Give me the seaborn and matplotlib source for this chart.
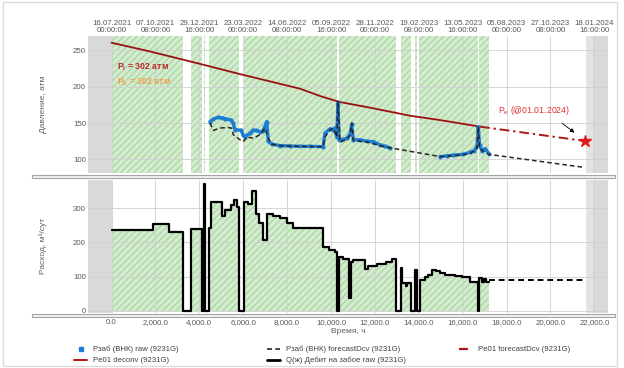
import numpy as np
import pandas as pd
import matplotlib
matplotlib.use("Agg")
import matplotlib.pyplot as plt
import seaborn as sns
from matplotlib.patches import Rectangle
from matplotlib.lines import Line2D

# ---------------- data (hours since 16.07.2021 00:00) ----------------
rate_t = [0, 1904, 2633, 3244, 3622, 4109, 4192, 4237, 4456, 4533, 5048, 5171, 5444, 5595, 5731,
          5822, 6059, 6205, 6415, 6583, 6734, 6916, 7098, 7372, 7677, 8009, 8283, 9650, 9909, 10183,
          10287, 10379, 10561, 10834, 10912, 11016, 11549, 11700, 12110, 12493, 12766, 12948, 13176,
          13212, 13404, 13463, 13645, 13827, 13918, 14055, 14283, 14433, 14616, 14771, 14967, 15195,
          15650, 15955, 16333, 16684, 16743, 16880, 16971, 17062, 17198]
rate_q = [236, 253, 229, 0, 239, 0, 370, 0, 242, 319, 277, 294, 309, 324, 304,
          0, 317, 312, 351, 282, 256, 207, 283, 278, 270, 258, 243, 187, 178, 173,
          0, 157, 151, 37, 144, 147, 122, 131, 137, 144, 150, 0, 124,
          81, 71, 81, 0, 120, 0, 90, 100, 105, 118, 115, 110, 105,
          102, 98, 85, 0, 95, 85, 92, 85, 85]
rate_fc_t = [17198, 21576]
rate_fc_q = [90, 90]

deconv_t = [0, 1754, 4032, 5854, 8588, 9499, 10365, 11777, 13600, 14967, 16790]
deconv_p = [260, 248, 231, 217, 197, 187, 179, 171, 160, 154, 145]

pe_fc_t = [16790, 21576]
pe_fc_p = [145, 125.3]

raw1_t = [4488, 4625, 4852, 5034, 5171, 5444, 5535, 5626, 5900, 5991, 6082, 6310, 6447, 6583,
          6765, 6902, 7071, 7144, 7299, 7677, 8132, 8588, 9043, 9636, 9727, 9955, 10092, 10183,
          10260, 10320, 10365, 10456, 10716, 10866, 10944, 11016, 11322, 11640, 11928, 12233,
          12461, 12689]
raw1_p = [152, 155, 158, 157, 156, 154, 150, 141, 140, 134, 131, 136, 140, 140,
          138, 139, 152, 125, 121, 119, 118.5, 118, 118, 117.5, 136, 142, 141, 143,
          131, 178, 127, 127, 129, 135, 148, 127, 127, 125, 124.5, 120,
          118, 116]
raw2_t = [14967, 15286, 15573, 16028, 16333, 16515, 16652, 16711, 16766, 16880, 17017, 17198]
raw2_p = [104, 105, 106, 107, 110, 112, 118, 145, 120, 112, 115, 108]

fc_t = [4488, 4638, 4943, 5249, 5476, 5549, 5854, 6005, 6160, 6460, 6765, 6994, 7144, 7299,
        7677, 8588, 9636, 9727, 9955, 10105, 10260, 10320, 10411, 10716, 10866, 10944, 11016,
        11640, 12233, 12689, 14967, 15573, 16333, 16652, 16711, 16766, 17017, 17198, 21576]
fc_p = [150, 140, 143, 144, 143, 134, 127, 124.5, 131, 129, 134, 143, 129, 121,
        119, 118, 117.5, 131, 140.5, 143, 131, 180, 124.5, 127, 133, 150, 126,
        124, 119, 116, 104, 105, 108, 115, 145, 115, 110, 107, 89]

star_t, star_p = 21576, 125.3

x_ticks = [0, 2000, 4000, 6000, 8000, 10000, 12000, 14000, 16000, 18000, 20000, 22000]
x_ticklabels = ["0.0", "2,000.0", "4,000.0", "6,000.0", "8,000.0", "10,000.0", "12,000.0",
                "14,000.0", "16,000.0", "18,000.0", "20,000.0", "22,000.0"]
date_ticklabels = ["16.07.2021\n00:00:00", "07.10.2021\n08:00:00", "29.12.2021\n16:00:00",
                   "23.03.2022\n00:00:00", "14.06.2022\n08:00:00", "05.09.2022\n16:00:00",
                   "28.11.2022\n00:00:00", "19.02.2023\n08:00:00", "13.05.2023\n16:00:00",
                   "05.08.2023\n00:00:00", "27.10.2023\n08:00:00", "18.01.2024\n16:00:00"]
p_ticks = [100, 150, 200, 250]
q_ticks = [0, 100, 200, 300]

# ---------------- style ----------------
sns.set_theme(style="whitegrid")
plt.rcParams["font.family"] = ["Liberation Sans", "DejaVu Sans"]
plt.rcParams["hatch.linewidth"] = 0.8
W, H = 624, 368
fig = plt.figure(figsize=(W / 100, H / 100), dpi=100)
fig.patch.set_facecolor("white")

def fx(px):
    return px / W

def fy(py):
    return 1 - py / H

x0, x1 = 88, 608
ax1 = fig.add_axes([fx(x0), fy(173), fx(x1 - x0), (173 - 36) / H])
ax2 = fig.add_axes([fx(x0), fy(313), fx(x1 - x0), (313 - 179.5) / H])

XL = (-1071, 22620)
GREEN_FACE = "#d3ebce"
GREEN_HATCH = "#a6d39d"
GRAY = "#d9d9d9"
TICK_C = "#5a5a5a"

# production spans from the rate data
spans = []
for i in range(len(rate_t) - 1):
    if rate_q[i] > 0:
        if spans and abs(spans[-1][1] - rate_t[i]) < 1e-9:
            spans[-1][1] = rate_t[i + 1]
        else:
            spans.append([rate_t[i], rate_t[i + 1]])

for ax in (ax1, ax2):
    ax.set_facecolor("white")
    ax.axvspan(XL[0], 0, color=GRAY, lw=0, zorder=0.2)
    ax.axvspan(21618, 21937, color="#e2e2e2", lw=0, zorder=0.2)
    ax.axvspan(21937, XL[1], color=GRAY, lw=0, zorder=0.2)
    ax.grid(True, color="#d0d0d0", lw=0.6, zorder=0.5)
    ax.set_axisbelow(False)
    for s in ax.spines.values():
        s.set_visible(False)
    ax.tick_params(length=0, labelsize=5.7, colors=TICK_C, pad=1.5)

for a, b in spans:
    ax1.axvspan(a, b, facecolor=GREEN_FACE, edgecolor=GREEN_HATCH, hatch="/////", lw=0, zorder=0.3)

# ---------------- top panel ----------------
df_dec = pd.DataFrame({"t": deconv_t, "p": deconv_p})
sns.lineplot(data=df_dec, x="t", y="p", ax=ax1, color="#9b1111", lw=1.3, estimator=None, sort=False, zorder=3)
df_pe = pd.DataFrame({"t": pe_fc_t, "p": pe_fc_p})
sns.lineplot(data=df_pe, x="t", y="p", ax=ax1, color="#b01515", lw=1.4, estimator=None, sort=False,
             zorder=3).lines[-1].set_dashes([5, 2, 1.2, 2])
df_raw = pd.DataFrame({"t": raw1_t + raw2_t, "p": raw1_p + raw2_p,
                       "seg": [1] * len(raw1_t) + [2] * len(raw2_t)})
sns.lineplot(data=df_raw, x="t", y="p", units="seg", estimator=None, ax=ax1, color="#1a7fd4",
             lw=2.4, marker="o", ms=2.2, mec="#1a7fd4", sort=False, zorder=4)
df_fc = pd.DataFrame({"t": fc_t, "p": fc_p})
sns.lineplot(data=df_fc, x="t", y="p", ax=ax1, color="#2e2222", lw=1.1, estimator=None, sort=False,
             zorder=5).lines[-1].set_dashes([3, 2])
ax1.plot([star_t], [star_p], marker="*", color="#e01b1b", ms=9, zorder=6, ls="none")

ax1.text(250, 227, "P$_\\mathregular{i}$ = 302 атм", color="#c0282a", fontsize=6.3, va="center",
         ha="left", fontweight="bold", zorder=7)
ax1.text(250, 205.8, "P$_\\mathregular{b}$ = 302 атм", color="#f0a050", fontsize=6.3, va="center",
         ha="left", fontweight="bold", zorder=7)
ax1.text(17609, 166.8, "P$_\\mathregular{e}$ (@01.01.2024)", color="#e03232", fontsize=6.3,
         va="center", ha="left", zorder=7)
ax1.annotate("", xy=(21194, 134.5), xytext=(20434, 151.8),
             arrowprops=dict(arrowstyle="-|>", color="black", lw=0.6, mutation_scale=6), zorder=7)

ax1.set_xlim(*XL)
ax1.set_ylim(81.5, 269.2)
ax1.set_yticks(p_ticks)
ax1.set_yticklabels([str(v) for v in p_ticks])
ax1.xaxis.tick_top()
ax1.set_xticks(x_ticks)
ax1.set_xticklabels(date_ticklabels, fontsize=5.7, linespacing=1.05)
ax1.tick_params(axis="x", labelbottom=False, labeltop=True, pad=1.5)
ax1.set_xlabel("")
ax1.set_ylabel("Давление, атм", fontsize=6, color="#606060")
ax1.yaxis.set_label_coords((46.7 - x0) / (x1 - x0), 0.5)

# ---------------- bottom panel ----------------
ax2.fill_between(rate_t, 0, rate_q, step="post", facecolor=GREEN_FACE, edgecolor=GREEN_HATCH,
                 hatch="/////", lw=0, zorder=0.3)
df_q = pd.DataFrame({"t": rate_t, "q": rate_q})
sns.lineplot(data=df_q, x="t", y="q", ax=ax2, color="black", lw=1.6, estimator=None, sort=False,
             drawstyle="steps-post", zorder=4)
df_qf = pd.DataFrame({"t": rate_fc_t, "q": rate_fc_q})
sns.lineplot(data=df_qf, x="t", y="q", ax=ax2, color="black", lw=1.4, estimator=None, sort=False,
             zorder=4).lines[-1].set_dashes([3, 2])
ax2.set_xlim(*XL)
ax2.set_ylim(-6.7, 384)
ax2.set_yticks(q_ticks)
ax2.set_yticklabels([str(v) for v in q_ticks])
ax2.set_xticks(x_ticks)
ax2.set_xticklabels(x_ticklabels)
ax2.tick_params(axis="x", labeltop=False, labelbottom=True, pad=4)
ax2.set_xlabel("Время, ч", fontsize=6, color="#606060", labelpad=2)
ax2.set_ylabel("Расход, м³/сут", fontsize=6, color="#606060")
ax2.yaxis.set_label_coords((46.7 - x0) / (x1 - x0), 0.5)

# ---------------- decorations ----------------
fig.add_artist(Rectangle((fx(3), fy(366)), fx(614), (364) / H, transform=fig.transFigure,
                         fill=False, edgecolor="#dcdcdc", lw=1.0))
for yb in (174.5, 313.8):
    fig.add_artist(Rectangle((fx(32), fy(yb + 3.5)), fx(583), 3.5 / H, transform=fig.transFigure,
                             facecolor="#f2f2f2", edgecolor="#a5a5a5", lw=0.8))

# ---------------- legend ----------------
h_raw = Line2D([], [], ls="none", marker="s", ms=2.2, color="#1a7fd4")
h_dec = Line2D([], [], color="#b01515", lw=1.4)
h_fc = Line2D([], [], color="#2e2222", lw=1.2, dashes=[3, 2])
h_q = Line2D([], [], color="black", lw=2.0)
h_pe = Line2D([], [], color="#b01515", lw=1.6, dashes=[4, 2, 1.2, 2])
kw = dict(loc="upper left", frameon=False, fontsize=5.6, handlelength=1.7, handletextpad=0.7,
          labelspacing=0.45, borderaxespad=0, borderpad=0, labelcolor="#404040")
fig.legend([h_raw, h_dec], ["Рзаб (ВНК) raw (9231G)", "Pe01 deconv (9231G)"],
           bbox_to_anchor=(fx(74), fy(346)), **kw)
fig.legend([h_fc, h_q], ["Рзаб (ВНК) forecastDcv (9231G)", "Q(ж) Дебит на забое raw (9231G)"],
           bbox_to_anchor=(fx(267), fy(346)), **kw)
fig.legend([h_pe], ["Pe01 forecastDcv (9231G)"], bbox_to_anchor=(fx(459), fy(346)), **kw)

fig.savefig("out.png", dpi=100, facecolor="white")
